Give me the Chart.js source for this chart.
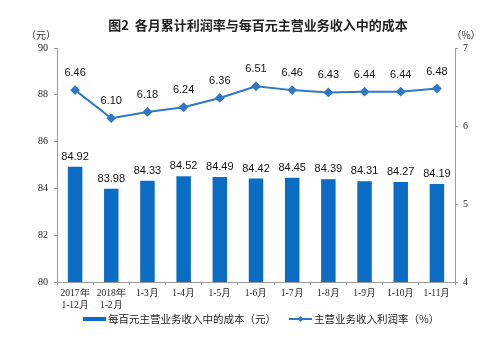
<!DOCTYPE html>
<html>
<head>
<meta charset="utf-8">
<script src="https://cdn.jsdelivr.net/npm/chart.js@4"></script>
<style>
  html, body { margin: 0; padding: 0; background: #fff; }
  #wrap { width: 500px; height: 348px; }
</style>
</head>
<body>
<div id="wrap"><canvas id="costChart" width="500" height="348"></canvas></div>
<script>
const labels = [['2017年', '1-12月'], ['2018年', '1-2月'], '1-3月', '1-4月', '1-5月', '1-6月', '1-7月', '1-8月', '1-9月', '1-10月', '1-11月'];
const costData = [84.92, 83.98, 84.33, 84.52, 84.49, 84.42, 84.45, 84.39, 84.31, 84.27, 84.19];
const rateData = [6.46, 6.10, 6.18, 6.24, 6.36, 6.51, 6.46, 6.43, 6.44, 6.44, 6.48];

const barColor = '#0a6cc2';
const lineColor = '#2f78c4';
const cjk = '"Noto Sans CJK SC", "Noto Sans", sans-serif';
const serif = '"Liberation Serif", "DejaVu Serif", serif';

// value labels, units, title and legend drawn on the canvas
const extras = {
  id: 'extras',
  afterDatasetsDraw(chart) {
    const ctx = chart.ctx;
    ctx.save();
    ctx.fillStyle = '#111';
    ctx.textAlign = 'center';
    ctx.textBaseline = 'middle';
    ctx.font = '11px "Liberation Sans", Arial, sans-serif';
    // dataset 0 = line, dataset 1 = bars
    chart.getDatasetMeta(1).data.forEach((el, i) => {
      ctx.fillText(costData[i].toFixed(2), el.x, el.y - 10);
    });
    chart.getDatasetMeta(0).data.forEach((el, i) => {
      ctx.fillText(rateData[i].toFixed(2), el.x, el.y - 17);
    });

    // title
    ctx.font = 'bold 13px ' + cjk;
    ctx.fillStyle = '#222';
    ctx.fillText('图2  各月累计利润率与每百元主营业务收入中的成本', 258, 25);

    // units
    ctx.font = '10px ' + cjk;
    ctx.fillStyle = '#333';
    ctx.fillText('（元）', 41, 35);
    ctx.fillText('（%）', 466, 35);

    // legend
    const ly = 319;
    ctx.fillStyle = barColor;
    ctx.fillRect(83, ly - 2, 23, 4);
    ctx.fillStyle = '#222';
    ctx.textAlign = 'left';
    ctx.font = '10.5px ' + cjk;
    ctx.fillText('每百元主营业务收入中的成本（元）', 108, ly);

    ctx.strokeStyle = lineColor;
    ctx.lineWidth = 2;
    ctx.beginPath();
    ctx.moveTo(289, ly);
    ctx.lineTo(312, ly);
    ctx.stroke();
    ctx.fillStyle = lineColor;
    ctx.beginPath();
    ctx.moveTo(300.5, ly - 3);
    ctx.lineTo(303.5, ly);
    ctx.lineTo(300.5, ly + 3);
    ctx.lineTo(297.5, ly);
    ctx.closePath();
    ctx.fill();
    ctx.fillStyle = '#222';
    ctx.fillText('主营业务收入利润率（%）', 314, ly);
    ctx.restore();
  }
};

const config = {
  data: {
    labels: labels,
    datasets: [
      {
        type: 'line',
        label: '主营业务收入利润率（%）',
        data: rateData,
        yAxisID: 'y1',
        borderColor: lineColor,
        backgroundColor: lineColor,
        borderWidth: 2,
        pointStyle: 'rectRot',
        pointRadius: 3.5,
        tension: 0,
        order: 0
      },
      {
        type: 'bar',
        label: '每百元主营业务收入中的成本（元）',
        data: costData,
        yAxisID: 'y',
        backgroundColor: barColor,
        barPercentage: 0.4,
        categoryPercentage: 1,
        order: 1
      }
    ]
  },
  options: {
    responsive: false,
    animation: false,
    layout: { padding: { top: 48, bottom: 36, left: 0, right: 0 } },
    scales: {
      x: {
        offset: true,
        grid: { display: true, drawOnChartArea: false, offset: true, tickLength: 3, color: '#999' },
        border: { color: '#999' },
        ticks: { color: '#222', font: { family: serif, size: 9.5, lineHeight: 1.2 }, maxRotation: 0, autoSkip: false, padding: 3 },
        afterFit(scale) { scale.height = 30; }
      },
      y: {
        position: 'left',
        min: 80,
        max: 90,
        ticks: { stepSize: 2, color: '#222', font: { family: serif, size: 10 }, padding: 6 },
        grid: { display: true, drawOnChartArea: false, tickLength: 3, color: '#999' },
        border: { color: '#999' },
        afterFit(scale) { scale.width = 57; }
      },
      y1: {
        position: 'right',
        min: 4,
        max: 7,
        ticks: { stepSize: 1, color: '#222', font: { family: serif, size: 10 }, padding: 5 },
        grid: { display: true, drawOnChartArea: false, tickLength: 3, color: '#999' },
        border: { color: '#999' },
        afterFit(scale) { scale.width = 45; }
      }
    },
    plugins: {
      legend: { display: false },
      title: { display: false },
      tooltip: { enabled: false }
    }
  },
  plugins: [extras]
};

const ctx = document.getElementById('costChart').getContext('2d');
const costChart = new Chart(ctx, config);
</script>
</body>
</html>
